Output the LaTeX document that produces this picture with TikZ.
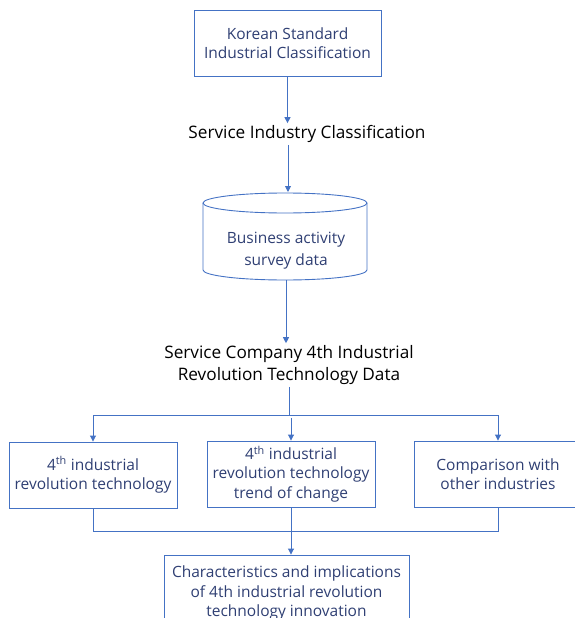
\documentclass[tikz,border=0pt]{standalone}
\usepackage{fontspec}
\setmainfont{Open Sans}
\usetikzlibrary{arrows.meta}
\definecolor{lineblue}{RGB}{68,114,196}
\definecolor{boxtext}{RGB}{47,63,115}
\begin{document}
\begin{tikzpicture}[x=1pt,y=-1pt,
  box/.style={draw=lineblue, line width=0.9pt, text=boxtext, align=center, font=\fontsize{15.5}{19.5}\selectfont, inner sep=0pt, minimum height=66pt},
  plain/.style={align=center, font=\fontsize{17.2}{22}\selectfont, inner sep=2pt},
  link/.style={lineblue, line width=0.9pt},
  arr/.style={link, -{Triangle[width=6pt,length=6pt]}}]
\clip (0,0) rectangle (575,618);
\node[box, minimum width=187pt] (ksic) at (287.5,43) {Korean Standard\\Industrial Classification};
\node[plain] (sic) at (307,134) {Service Industry Classification};
% database drum
\draw[link] (203,203) -- (203,270) arc[start angle=180, end angle=360, x radius=82pt, y radius=10pt] -- (367,203);
\draw[link] (285,203) ellipse[x radius=82pt, y radius=10pt];
\coordinate (cyltop) at (288,192);
\coordinate (cylbot) at (286,280);
\node[text=boxtext, align=center, font=\fontsize{15.5}{22}\selectfont] (survey) at (286,251) {Business activity\\survey data};
\node[plain] (svc) at (289,365) {Service Company 4th Industrial\\Revolution Technology Data};
\node[box, minimum width=168pt] (tech1) at (93,475) {4\textsuperscript{th} industrial\\revolution technology};
\node[box, minimum width=168pt] (tech2) at (291,474) {4\textsuperscript{th} industrial\\revolution technology\\trend of change};
\node[box, minimum width=168pt] (comp) at (498,474) {Comparison with\\other industries};
\node[box, minimum width=245pt, minimum height=76pt] (result) at (286.5,593) {Characteristics and implications\\of 4th industrial revolution\\technology innovation};
\coordinate (split) at (289,415);
\coordinate (merge) at (291,531);
\draw[arr] (ksic) -- (ksic |- sic.north);
\draw[arr] (sic.south -| cyltop) -- (cyltop);
\draw[arr] (cylbot) -- (cylbot |- svc.north);
\draw[link] (svc) -- (split);
\draw[arr] (split) -| (tech1);
\draw[arr] (split) -| (comp);
\draw[arr] (291,418) -- (tech2);
\draw[link] (tech1) |- (merge);
\draw[link] (comp) |- (merge);
\draw[link] (tech2) -- (merge);
\draw[arr] (merge) -- (merge |- result.north);
\end{tikzpicture}
\end{document}
